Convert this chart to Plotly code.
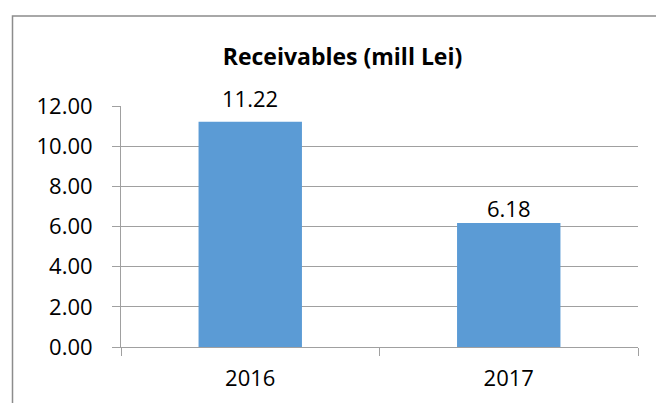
import plotly.graph_objects as go

categories = ["2016", "2017"]
values = [11.22, 6.18]
label_gaps = [7, -2]
tick_vals = [0, 2, 4, 6, 8, 10, 12]
tick_text = ["0.00", "2.00", "4.00", "6.00", "8.00", "10.00", "12.00"]

FONT = "Open Sans"
FS = 22
fig = go.Figure(go.Bar(
    x=categories, y=values,
    marker=dict(color="#5b9bd5", line=dict(width=0)),
))

W, H = 656, 403
L, R, T, B = 121, 18, 106, 56
pw, ph = W - L - R, H - T - B
def px(x): return (x - L) / pw
def py(y): return (H - B - y) / ph

annotations = [dict(x=i, y=v, text=f"{v:.2f}", showarrow=False, yanchor="bottom",
                    yshift=g, font=dict(family=FONT, size=FS, color="#000000"))
               for i, (v, g) in enumerate(zip(values, label_gaps))]

fig.update_layout(
    width=W, height=H,
    margin=dict(l=L, r=R, t=T, b=B, autoexpand=False),
    paper_bgcolor="white", plot_bgcolor="white",
    bargap=0.6, showlegend=False,
    title=dict(text="<b>Receivables (mill Lei)</b>", x=342.5 / W, xanchor="center",
               xref="container", y=1 - 57 / H, yanchor="middle", yref="container",
               font=dict(family=FONT, size=23, color="#000000")),
    font=dict(family=FONT, size=FS, color="#000000"),
    annotations=annotations,
    xaxis=dict(type="category", range=[-0.5, 1.5], showgrid=False, showline=True,
               linecolor="#a0a0a0", linewidth=1, ticks="outside", tickson="boundaries",
               ticklen=8, tickcolor="#a0a0a0", ticklabelstandoff=12, tickangle=0,
               tickfont=dict(family=FONT, size=FS, color="#000000")),
    yaxis=dict(range=[0, 12], tickvals=tick_vals, ticktext=tick_text, showgrid=True,
               gridcolor="#a0a0a0", gridwidth=1, showline=True, linecolor="#a0a0a0",
               linewidth=1, ticks="outside", ticklen=8, tickcolor="#a0a0a0",
               ticklabelstandoff=15, zeroline=False,
               tickfont=dict(family=FONT, size=FS, color="#000000")),
    shapes=[dict(type="rect", xref="paper", yref="paper",
                 x0=px(12.5), x1=px(665), y0=py(415), y1=py(16),
                 line=dict(color="#8c8c8c", width=1.5), fillcolor="rgba(0,0,0,0)",
                 layer="below")],
)
fig.write_html("out.html")
